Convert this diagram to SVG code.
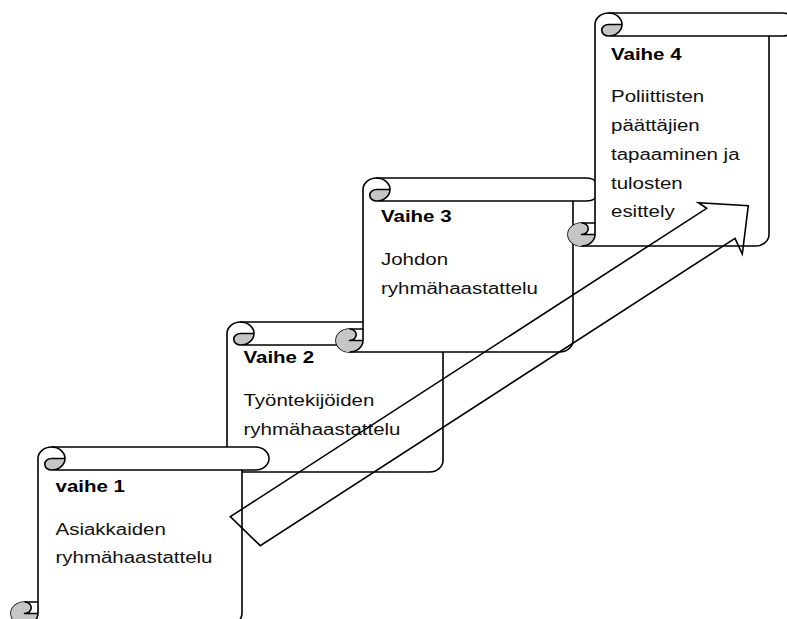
<svg xmlns="http://www.w3.org/2000/svg" width="787" height="619" viewBox="0 0 787 619">
<style>
.body{fill:#fff;stroke:#000;stroke-width:1.6;stroke-linejoin:round}
.gray{fill:#c6c6c6;stroke:none}
.ln{fill:none;stroke:#000;stroke-width:1.6;stroke-linejoin:round}
.arrow{fill:none;stroke:#000;stroke-width:1.6;stroke-linejoin:miter}
text{font-family:"Liberation Sans",Arial,sans-serif;font-size:16px;fill:#111}
.t{font-weight:bold;fill:#000}
</style>
<rect width="787" height="619" fill="#fff"/>

<g id="vaihe2">
<path class="body" d="M227,449 V333.5 A13.5 11.5 0 0 1 240.5,322 H456.5 A13.5 11.5 0 0 1 456.5,345 H443 V460.5 A13.5 11.5 0 0 1 429.5,472 H213.5 A13.5 11.5 0 0 1 213.5,449 Z"/>
<path class="gray" d="M254,333.5 A13.5 11.5 0 0 1 240.5,345 A6.75 5.75 0 0 1 240.5,333.5 Z"/>
<path class="ln" d="M240.5,322 A13.5 11.5 0 0 1 240.5,345 A6.75 5.75 0 0 1 240.5,333.5 H254 M443,345 H240.5"/>
<path class="gray" d="M213.5,449 A6.75 5.75 0 0 1 213.5,460.5 H227 A13.5 11.5 0 0 1 213.5,472 A13.5 11.5 0 0 1 213.5,449 Z"/>
<path class="ln" d="M213.5,449 A6.75 5.75 0 0 1 213.5,460.5 H227 M213.5,472 A13.5 11.5 0 0 0 227,460.5 V449"/>
<g transform="translate(243.5 0) scale(1.28 1)">
<text class="t" x="0" y="363.5">Vaihe 2</text>
<text x="0" y="406.5">Työntekijöiden</text>
<text x="0" y="435">ryhmähaastattelu</text>
</g>
</g>

<g id="vaihe3">
<path class="body" d="M363,329 V189.5 A13.5 11.5 0 0 1 376.5,178 H586.5 A13.5 11.5 0 0 1 586.5,201 H573 V340.5 A13.5 11.5 0 0 1 559.5,352 H349.5 A13.5 11.5 0 0 1 349.5,329 Z"/>
<path class="gray" d="M390,189.5 A13.5 11.5 0 0 1 376.5,201 A6.75 5.75 0 0 1 376.5,189.5 Z"/>
<path class="ln" d="M376.5,178 A13.5 11.5 0 0 1 376.5,201 A6.75 5.75 0 0 1 376.5,189.5 H390 M573,201 H376.5"/>
<path class="gray" d="M349.5,329 A6.75 5.75 0 0 1 349.5,340.5 H363 A13.5 11.5 0 0 1 349.5,352 A13.5 11.5 0 0 1 349.5,329 Z"/>
<path class="ln" d="M349.5,329 A6.75 5.75 0 0 1 349.5,340.5 H363 M349.5,352 A13.5 11.5 0 0 0 363,340.5 V329"/>
<g transform="translate(381 0) scale(1.28 1)">
<text class="t" x="0" y="222.5">Vaihe 3</text>
<text x="0" y="265">Johdon</text>
<text x="0" y="294">ryhmähaastattelu</text>
</g>
</g>

<g id="vaihe4">
<path class="body" d="M595,223 V24.5 A13.5 11.5 0 0 1 608.5,13 H782.5 A13.5 11.5 0 0 1 782.5,36 H769 V234.5 A13.5 11.5 0 0 1 755.5,246 H581.5 A13.5 11.5 0 0 1 581.5,223 Z"/>
<path class="gray" d="M622,24.5 A13.5 11.5 0 0 1 608.5,36 A6.75 5.75 0 0 1 608.5,24.5 Z"/>
<path class="ln" d="M608.5,13 A13.5 11.5 0 0 1 608.5,36 A6.75 5.75 0 0 1 608.5,24.5 H622 M769,36 H608.5"/>
<path class="gray" d="M581.5,223 A6.75 5.75 0 0 1 581.5,234.5 H595 A13.5 11.5 0 0 1 581.5,246 A13.5 11.5 0 0 1 581.5,223 Z"/>
<path class="ln" d="M581.5,223 A6.75 5.75 0 0 1 581.5,234.5 H595 M581.5,246 A13.5 11.5 0 0 0 595,234.5 V223"/>
<g transform="translate(611 0) scale(1.28 1)">
<text class="t" x="0" y="60.5">Vaihe 4</text>
<text x="0" y="102">Poliittisten</text>
<text x="0" y="131">päättäjien</text>
<text x="0" y="160">tapaaminen ja</text>
<text x="0" y="189">tulosten</text>
<text x="0" y="217">esittely</text>
</g>
</g>

<g id="vaihe1">
<path class="body" d="M38,602 V458.5 A13.5 11.5 0 0 1 51.5,447 H255.5 A13.5 11.5 0 0 1 255.5,470 H242 V613.5 A13.5 11.5 0 0 1 228.5,625 H24.5 A13.5 11.5 0 0 1 24.5,602 Z"/>
<path class="gray" d="M65,458.5 A13.5 11.5 0 0 1 51.5,470 A6.75 5.75 0 0 1 51.5,458.5 Z"/>
<path class="ln" d="M51.5,447 A13.5 11.5 0 0 1 51.5,470 A6.75 5.75 0 0 1 51.5,458.5 H65 M242,470 H51.5"/>
<path class="gray" d="M24.5,602 A6.75 5.75 0 0 1 24.5,613.5 H38 A13.5 11.5 0 0 1 24.5,625 A13.5 11.5 0 0 1 24.5,602 Z"/>
<path class="ln" d="M24.5,602 A6.75 5.75 0 0 1 24.5,613.5 H38 M24.5,625 A13.5 11.5 0 0 0 38,613.5 V602"/>
<g transform="translate(55.5 0) scale(1.28 1)">
<text class="t" x="0" y="492">vaihe 1</text>
<text x="0" y="535">Asiakkaiden</text>
<text x="0" y="563.5">ryhmähaastattelu</text>
</g>
</g>

<g id="connectors">
<polygon class="arrow" points="230.3,516.7 706.7,208.3 698.3,202.7 748.3,205.7 742.3,254 735,238.3 260.3,545.7"/>
</g>
</svg>
